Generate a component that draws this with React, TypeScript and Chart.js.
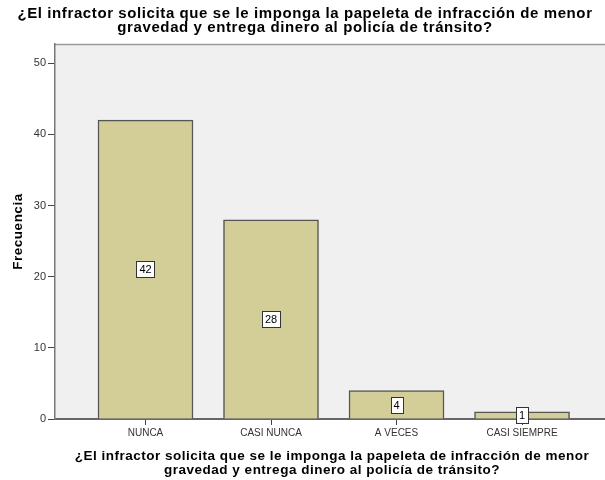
import React, { useEffect, useRef } from "react";
import { Chart, registerables } from "chart.js";

Chart.register(...registerables);

const categories = ["NUNCA", "CASI NUNCA", "A VECES", "CASI SIEMPRE"];
const frequencies = [42, 28, 4, 1];
const yTicks = [0, 10, 20, 30, 40, 50];
const titleLines = [
  "¿El infractor solicita que se le imponga la papeleta de infracción de menor",
  "gravedad y entrega dinero al policía de tránsito?",
];
const yTitle = "Frecuencia";

const FONT = "Arial, 'Liberation Sans', sans-serif";

const plotBackground = {
  id: "plotBackground",
  beforeDraw(chart: any) {
    const { ctx, chartArea } = chart;
    ctx.save();
    ctx.fillStyle = "#f0f0f0";
    ctx.fillRect(chartArea.left, chartArea.top, chartArea.right - chartArea.left, chartArea.bottom - chartArea.top);
    ctx.strokeStyle = "#9a9a9a";
    ctx.lineWidth = 1.5;
    ctx.beginPath();
    ctx.moveTo(chartArea.left, chartArea.top + 0.5);
    ctx.lineTo(chartArea.right, chartArea.top + 0.5);
    ctx.stroke();
    ctx.restore();
  },
};

const spacedTitles = {
  id: "spacedTitles",
  afterDraw(chart: any) {
    const { ctx, chartArea } = chart;
    ctx.save();
    ctx.fillStyle = "#000";
    ctx.textAlign = "center";
    ctx.textBaseline = "middle";
    // main title
    ctx.font = `bold 15px ${FONT}`;
    (ctx as any).letterSpacing = "0.6px";
    titleLines.forEach((line, i) => ctx.fillText(line, 305, 14 + i * 14));
    // x axis title
    ctx.font = `bold 13.5px ${FONT}`;
    (ctx as any).letterSpacing = "0.5px";
    const xc = (chartArea.left + chartArea.right) / 2 + 2;
    titleLines.forEach((line, i) => ctx.fillText(line, xc, 456 + i * 14));
    // y axis title
    ctx.translate(18.5, (chartArea.top + chartArea.bottom) / 2);
    ctx.rotate(-Math.PI / 2);
    ctx.fillText(yTitle, 0, 0);
    ctx.restore();
  },
};

const valueBoxes = {
  id: "valueBoxes",
  afterDatasetsDraw(chart: any) {
    const { ctx } = chart;
    const meta = chart.getDatasetMeta(0);
    const data = chart.data.datasets[0].data;
    ctx.save();
    ctx.font = `11px ${FONT}`;
    ctx.textAlign = "center";
    ctx.textBaseline = "middle";
    meta.data.forEach((el: any, i: number) => {
      const v = data[i].y;
      const text = String(v);
      const cx = el.x;
      const cy = (el.y + el.base) / 2;
      const w = Math.ceil(ctx.measureText(text).width) + 5;
      const h = 16;
      const x0 = Math.round(cx - w / 2) + 0.5;
      const y0 = Math.round(cy - h / 2) + 0.5;
      ctx.fillStyle = "#ffffff";
      ctx.fillRect(x0, y0, w, h);
      ctx.strokeStyle = "#333333";
      ctx.lineWidth = 1;
      ctx.strokeRect(x0, y0, w, h);
      ctx.fillStyle = "#000000";
      ctx.fillText(text, cx, cy + 1);
    });
    ctx.restore();
  },
};

export default function App() {
  const ref = useRef<HTMLCanvasElement>(null);

  useEffect(() => {
    if (!ref.current) return;
    const chart = new Chart(ref.current, {
      type: "bar",
      data: {
        datasets: [
          {
            data: frequencies.map((v, i) => ({ x: i, y: v })),
            backgroundColor: "rgb(211,206,152)",
            borderColor: "#555555",
            borderWidth: 1.5,
            barThickness: 95,
          },
        ],
      },
      options: {
        animation: false,
        responsive: false,
        layout: { padding: { top: 44, left: 0, right: 0, bottom: 0 } },
        plugins: {
          legend: { display: false },
          tooltip: { enabled: false },
          title: { display: false },
        },
        scales: {
          x: {
            type: "linear",
            offset: false,
            min: -0.721,
            max: 3.661,
            afterBuildTicks: (scale: any) => {
              scale.ticks = categories.map((_, i) => ({ value: i }));
            },
            afterFit: (scale: any) => {
              scale.height = 61;
            },
            ticks: {
              autoSkip: false,
              maxRotation: 0,
              padding: 2,
              color: "#333",
              font: { family: FONT, size: 10 },
              callback: (v: any) => categories[v as number] ?? "",
            },
            grid: { offset: false, drawOnChartArea: false, drawTicks: true, tickLength: 6, color: "#444" },
            border: { display: true, color: "#666", width: 2 },
            title: { display: false },
          },
          y: {
            min: 0,
            max: 52.7,
            afterBuildTicks: (scale: any) => {
              scale.ticks = yTicks.map((v) => ({ value: v }));
            },
            afterFit: (scale: any) => {
              scale.width = 55;
            },
            ticks: {
              padding: 2,
              color: "#333",
              font: { family: FONT, size: 11 },
            },
            grid: { drawOnChartArea: false, drawTicks: true, tickLength: 7, color: "#444" },
            border: { display: true, color: "#777", width: 1.5 },
            title: { display: false },
          },
        },
      } as any,
      plugins: [plotBackground, valueBoxes, spacedTitles],
    });
    return () => chart.destroy();
  }, []);

  return (
    <div style={{ position: "fixed", left: 0, top: 0, width: 605, height: 480, background: "#fff" }}>
      <canvas ref={ref} width={605} height={480} />
    </div>
  );
}
